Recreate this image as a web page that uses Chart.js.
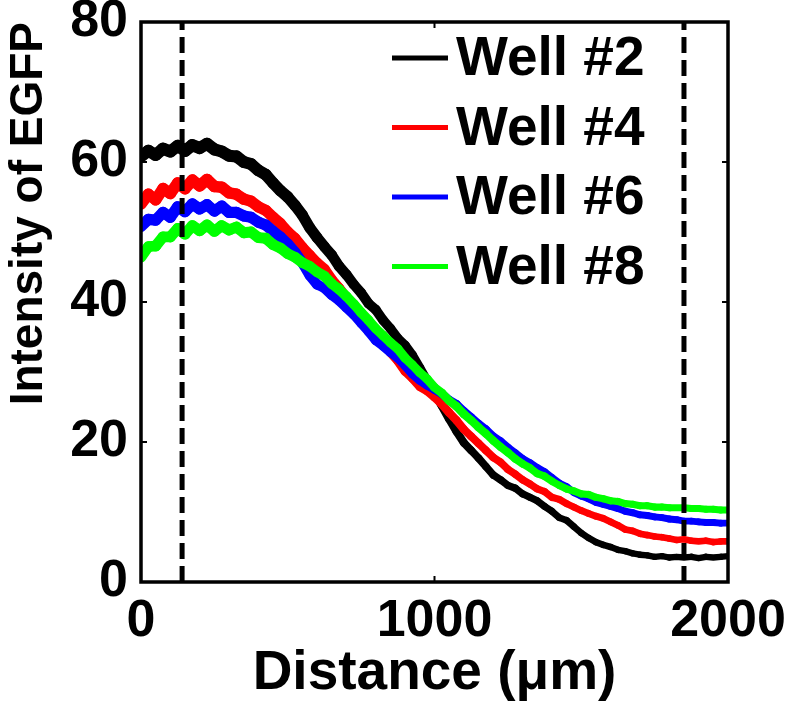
<!DOCTYPE html>
<html>
<head>
<meta charset="utf-8">
<script src="https://cdn.jsdelivr.net/npm/chart.js@4.4.0/dist/chart.umd.min.js"></script>
<style>
  html, body { margin: 0; padding: 0; background: #fff; }
  #wrap { width: 791px; height: 702px; }
</style>
</head>
<body>
<div id="wrap"><canvas id="egfp-canvas" width="791" height="702"></canvas></div>
<script>
// distance along the channel (um), one sample every 25 um
const distance = [0,25,50,75,100,125,150,175,200,225,250,275,300,325,350,375,400,425,450,475,
    500,525,550,575,600,625,650,675,700,725,750,775,800,825,850,875,900,925,950,975,
    1000,1025,1050,1075,1100,1125,1150,1175,1200,1225,1250,1275,1300,1325,1350,1375,1400,1425,1450,1475,
    1500,1525,1550,1575,1600,1625,1650,1675,1700,1725,1750,1775,1800,1825,1850,1875,1900,1925,1950,1975,2000];

const well2 = [60.8,61.6,61.0,61.9,61.5,62.3,61.6,62.4,62.0,62.6,61.8,61.5,60.9,60.8,60.0,59.7,58.8,58.2,57.0,55.9,
    55.0,53.8,52.4,50.6,49.2,47.9,46.7,45.1,43.9,42.5,41.3,39.8,38.9,37.4,36.2,34.8,33.8,32.4,30.6,28.8,
    27.0,25.2,23.3,21.5,19.9,18.8,17.7,16.5,15.3,14.6,13.8,13.4,12.6,12.1,11.6,10.8,10.1,9.2,8.8,7.9,
    7.0,6.3,5.7,5.3,5.0,4.6,4.4,4.1,3.9,3.8,3.6,3.7,3.5,3.6,3.5,3.6,3.4,3.6,3.5,3.6,3.7];

const well4 = [54.0,55.4,54.6,56.2,55.5,57.0,56.2,57.4,56.6,57.5,56.5,56.4,55.6,55.4,54.7,54.4,53.6,53.1,52.1,51.2,
    50.0,49.1,47.8,46.7,45.6,44.7,43.2,42.0,40.6,39.5,38.0,36.9,35.5,34.4,32.8,31.6,30.1,29.1,27.9,27.3,
    26.4,25.4,24.2,23.1,21.8,20.8,19.8,18.8,17.8,17.1,16.1,15.4,14.6,14.0,13.3,12.9,12.1,11.8,11.2,10.7,
    10.2,9.8,9.4,9.1,8.6,8.1,7.5,7.3,6.9,6.7,6.5,6.4,6.2,6.0,6.1,5.9,5.8,5.9,5.7,5.8,5.8];

const well6 = [50.8,51.8,51.7,52.8,52.1,53.6,52.9,54.0,53.3,53.9,53.0,53.7,52.8,52.8,52.3,52.1,51.4,51.0,50.1,49.3,
    48.3,47.1,45.6,43.8,42.5,42.0,41.0,40.2,39.2,38.2,37.0,35.8,34.5,33.7,32.8,32.0,30.9,29.7,28.8,28.1,
    27.5,26.9,26.0,25.4,24.4,23.5,22.6,21.8,20.8,20.1,19.2,18.4,17.6,17.0,16.3,15.7,14.9,14.1,13.6,12.8,
    12.3,11.9,11.4,11.1,10.8,10.5,10.1,9.9,9.6,9.5,9.3,9.2,9.0,8.9,8.7,8.7,8.6,8.5,8.5,8.4,8.4];

const well8 = [46.4,47.9,48.0,49.3,49.3,50.5,49.7,50.9,50.2,51.0,50.1,50.9,50.3,50.7,49.9,50.0,49.2,49.1,48.2,47.7,
    46.9,46.4,45.6,45.1,44.3,43.7,42.6,41.8,40.8,39.7,38.5,37.4,36.2,35.2,34.2,33.3,32.0,31.0,29.9,29.0,
    27.8,27.0,25.9,25.1,24.0,23.1,22.1,21.2,20.2,19.3,18.5,17.6,16.9,16.3,15.5,15.1,14.4,13.8,13.3,13.0,
    12.6,12.5,12.1,11.9,11.6,11.5,11.2,11.1,10.9,10.9,10.7,10.7,10.6,10.6,10.6,10.5,10.5,10.4,10.4,10.3,10.3];

const seriesNames = ["Well #2", "Well #4", "Well #6", "Well #8"];
const seriesColors = ["#000000", "#ff0000", "#0000ff", "#00ff00"];
const seriesValues = [well2, well4, well6, well8];

// dashed vertical markers (um)
const markerX = [140, 1850];

const xTicks = [0, 1000, 2000];
const yTicks = [0, 20, 40, 60, 80];

const fontFamily = "'Liberation Sans', Arial, Helvetica, sans-serif";

window.onload = () => {
    const ctx = document.getElementById("egfp-canvas").getContext('2d');

    let datasets = [];
    for (let i = 0; i < seriesNames.length; i++) {
        datasets.push({
            label: seriesNames[i],
            data: distance.map((d, k) => ({x: d, y: seriesValues[i][k]})),
            borderColor: seriesColors[i],
            borderWidth: 7,
            borderCapStyle: 'round',
            borderJoinStyle: 'round',
            // noisy traces look fatter where the signal is high
            segment: {
                borderWidth: s => 6 + 0.1 * (s.p0.parsed.y + s.p1.parsed.y) / 2
            },
            pointRadius: 0,
            fill: false,
            tension: 0,
            order: seriesNames.length - i   // green ends up on top
        });
    }
    for (let m = 0; m < markerX.length; m++) {
        datasets.push({
            label: "marker" + m,
            data: [{x: markerX[m], y: 0}, {x: markerX[m], y: 80}],
            borderColor: "#000",
            borderWidth: 5,
            borderDash: [16, 7],
            pointRadius: 0,
            fill: false,
            order: 0
        });
    }

    // box round the plot + small inward ticks, matlab style
    const boxPlugin = {
        id: 'box',
        afterDatasetsDraw(chart) {
            const c = chart.ctx;
            const a = chart.chartArea;
            const xs = chart.scales.x, ys = chart.scales.y;
            c.save();
            c.strokeStyle = "#000";
            c.lineWidth = 3.5;
            c.strokeRect(a.left, a.top, a.right - a.left, a.bottom - a.top);
            c.lineWidth = 2;
            const tl = 6;
            c.beginPath();
            yTicks.forEach(v => {
                const p = ys.getPixelForValue(v);
                c.moveTo(a.left, p); c.lineTo(a.left + tl, p);
                c.moveTo(a.right, p); c.lineTo(a.right - tl, p);
            });
            xTicks.forEach(v => {
                const p = xs.getPixelForValue(v);
                c.moveTo(p, a.bottom); c.lineTo(p, a.bottom - tl);
                c.moveTo(p, a.top); c.lineTo(p, a.top + tl);
            });
            c.stroke();
            c.restore();
        }
    };

    // legend sits inside the axes, top right
    const legendPlugin = {
        id: 'wellLegend',
        afterDraw(chart) {
            const c = chart.ctx;
            const a = chart.chartArea;
            const x0 = a.right - 336;
            const y0 = a.top + 36;
            const rowH = 69.5;
            c.save();
            c.font = "bold 55px " + fontFamily;
            c.textBaseline = "middle";
            c.textAlign = "left";
            for (let i = 0; i < seriesNames.length; i++) {
                const y = y0 + i * rowH;
                c.strokeStyle = seriesColors[i];
                c.lineWidth = 5;
                c.beginPath();
                c.moveTo(x0, y);
                c.lineTo(x0 + 56, y);
                c.stroke();
                c.fillStyle = "#000";
                c.fillText(seriesNames[i], x0 + 64, y + 2);
            }
            c.restore();
        }
    };

    const config = {
        type: 'line',
        data: {datasets: datasets},
        options: {
            responsive: false,
            animation: false,
            layout: {
                padding: {top: 22, right: 63, left: 0, bottom: 0}
            },
            plugins: {
                legend: {display: false},
                tooltip: {enabled: false}
            },
            scales: {
                x: {
                    type: 'linear',
                    min: 0,
                    max: 2000,
                    border: {display: false},
                    grid: {display: false, drawTicks: false},
                    afterBuildTicks: scale => { scale.ticks = xTicks.map(v => ({value: v})); },
                    afterFit: scale => {
                        scale.height = 120;
                        scale.paddingLeft = 0;
                        scale.paddingRight = 0;
                    },
                    ticks: {
                        color: "#000",
                        padding: 8,
                        maxRotation: 0,
                        autoSkip: false,
                        callback: value => String(value),
                        font: {family: fontFamily, size: 52, weight: 'bold'}
                    },
                    title: {
                        display: true,
                        text: "Distance (\u03bcm)",
                        color: "#000",
                        padding: 0,
                        font: {family: fontFamily, size: 55, weight: 'bold', lineHeight: 1.02}
                    }
                },
                y: {
                    min: 0,
                    max: 80,
                    border: {display: false},
                    grid: {display: false, drawTicks: false},
                    afterBuildTicks: scale => { scale.ticks = yTicks.map(v => ({value: v})); },
                    afterFit: scale => {
                        scale.width = 141;
                        scale.paddingTop = 0;
                        scale.paddingBottom = 0;
                    },
                    ticks: {
                        color: "#000",
                        padding: 13,
                        autoSkip: false,
                        callback: value => String(value),
                        font: {family: fontFamily, size: 52, weight: 'bold'}
                    },
                    title: {
                        display: true,
                        text: "Intensity of EGFP",
                        color: "#000",
                        align: 'end',
                        padding: 0,
                        font: {family: fontFamily, size: 46, weight: 'bold', lineHeight: 1.28}
                    }
                }
            }
        },
        plugins: [boxPlugin, legendPlugin]
    };

    let egfpChart = new Chart(ctx, config);
};
</script>
</body>
</html>
